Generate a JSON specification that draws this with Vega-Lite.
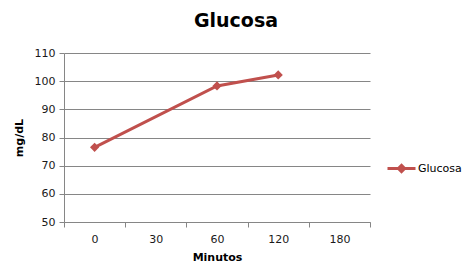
{
  "$schema": "https://vega.github.io/schema/vega-lite/v6.json",
  "width": 306,
  "height": 169,
  "autosize": {"type": "none"},
  "padding": {"left": 64, "top": 53, "right": 100, "bottom": 51},
  "background": "white",
  "config": {
    "font": "DejaVu Sans",
    "view": {"stroke": null}
  },
  "title": {
    "text": "Glucosa",
    "fontSize": 19,
    "fontWeight": "bold",
    "font": "DejaVu Sans",
    "color": "#000000",
    "anchor": "middle",
    "dx": 19,
    "offset": 16
  },
  "data": {
    "values": [
      {"Minutos": "0", "Glucosa": 76.5, "serie": "Glucosa"},
      {"Minutos": "60", "Glucosa": 98.3, "serie": "Glucosa"},
      {"Minutos": "120", "Glucosa": 102.2, "serie": "Glucosa"}
    ]
  },
  "mark": {"type": "line", "strokeWidth": 3, "point": {"shape": "diamond", "size": 85, "filled": true}},
  "encoding": {
    "x": {
      "field": "Minutos",
      "type": "ordinal",
      "scale": {"domain": ["0", "30", "60", "120", "180"], "paddingInner": 0, "paddingOuter": 0},
      "axis": {
        "title": "Minutos",
        "titleFontSize": 11,
        "titleFontWeight": "bold",
        "titleColor": "#000000",
        "titlePadding": 7,
        "labelAngle": 0,
        "labelFontSize": 11,
        "labelColor": "#1a1a1a",
        "labelPadding": 6,
        "tickBand": "extent",
        "tickSize": 5,
        "tickColor": "#868686",
        "domainColor": "#868686",
        "grid": false
      }
    },
    "y": {
      "field": "Glucosa",
      "type": "quantitative",
      "scale": {"domain": [50, 110], "nice": false, "zero": false},
      "axis": {
        "title": "mg/dL",
        "titleFontSize": 11,
        "titleFontWeight": "bold",
        "titleColor": "#000000",
        "titlePadding": 10,
        "values": [50, 60, 70, 80, 90, 100, 110],
        "labelFontSize": 11,
        "labelColor": "#1a1a1a",
        "labelPadding": 4,
        "tickSize": 5,
        "tickColor": "#868686",
        "domainColor": "#868686",
        "gridColor": "#868686",
        "grid": true
      }
    },
    "color": {
      "field": "serie",
      "type": "nominal",
      "scale": {"range": ["#C0504D"]},
      "legend": {
        "title": null,
        "orient": "none",
        "legendX": 322,
        "legendY": 100,
        "labelFontSize": 11,
        "labelColor": "#000000",
        "symbolType": "M-1,0H1M0,-0.22L0.22,0L0,0.22L-0.22,0Z",
        "symbolSize": 784,
        "symbolStrokeWidth": 3,
        "symbolFillColor": "#C0504D",
        "labelOffset": 1
      }
    }
  }
}
